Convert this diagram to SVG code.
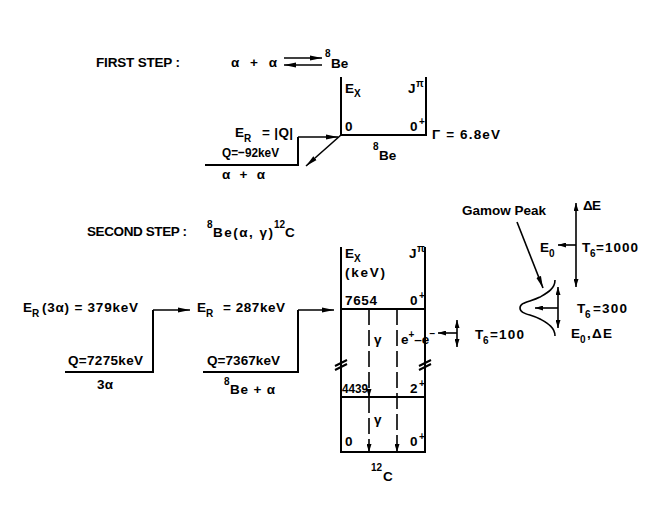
<svg xmlns="http://www.w3.org/2000/svg" width="665" height="508" viewBox="0 0 665 508">
<style>
text{font-family:"Liberation Sans",Arial,sans-serif;font-size:13.5px;font-weight:bold;fill:#000}
.s{font-size:10px}
.ln{stroke:#000;stroke-width:2;fill:none}
.c{stroke:#000;stroke-width:1.6;fill:none}
.d{stroke:#000;stroke-width:1.6;fill:none;stroke-dasharray:16 5}
</style>
<defs>
<marker id="ah" viewBox="0 0 12 6" refX="12" refY="3" markerWidth="12" markerHeight="6" markerUnits="userSpaceOnUse" orient="auto-start-reverse">
<path d="M0,0.5 L12,3 L0,5.5 z" fill="#000"/>
</marker>
<marker id="as" viewBox="0 0 8 5" refX="8" refY="2.5" markerWidth="8" markerHeight="5" markerUnits="userSpaceOnUse" orient="auto-start-reverse">
<path d="M0,0 L8,2.5 L0,5 z" fill="#000"/>
</marker>
</defs>
<rect width="665" height="508" fill="#fff"/>

<g id="first-step-title">
<text x="96" y="67" textLength="84" lengthAdjust="spacing">FIRST STEP :</text>
<text x="231" y="67" textLength="46" lengthAdjust="spacing">α + α</text>
<text x="325" y="57" class="s">8</text>
<text x="331" y="68">Be</text>
</g>

<g id="alpha-alpha-entrance">
<path class="ln" d="M205,165 H298 V137"/>
<text x="235" y="137">E</text>
<text x="244" y="142" class="s">R</text>
<text x="262" y="137" textLength="31" lengthAdjust="spacing">= |Q|</text>
<text x="222" y="157" textLength="57" lengthAdjust="spacingAndGlyphs">Q=−92keV</text>
<text x="222" y="179" textLength="43" lengthAdjust="spacing">α + α</text>
</g>

<g id="be8-levels">
<path class="ln" d="M341,77 V135 H426 V77"/>
<text x="345" y="93">E</text>
<text x="354" y="97" class="s">X</text>
<text x="408" y="93">J</text>
<text x="416" y="87" class="s">π</text>
<text x="345" y="131">0</text>
<text x="410" y="131">0</text>
<text x="419" y="125" class="s">+</text>
<text x="432" y="139" textLength="68" lengthAdjust="spacing">Γ = 6.8eV</text>
<text x="373" y="150" class="s">8</text>
<text x="379" y="160">Be</text>
</g>

<g id="second-step-title">
<text x="87" y="236" textLength="100" lengthAdjust="spacing">SECOND STEP :</text>
<text x="207" y="228" class="s">8</text>
<text x="213" y="237" textLength="60" lengthAdjust="spacing">Be(α, γ)</text>
<text x="274" y="228" class="s">12</text>
<text x="285" y="237">C</text>
</g>

<g id="three-alpha-entrance">
<path class="ln" d="M65,372 H153 V310"/>
<text x="23" y="312">E</text>
<text x="32" y="317" class="s">R</text>
<text x="42" y="312" textLength="96" lengthAdjust="spacing">(3α) = 379keV</text>
<text x="68" y="365" textLength="75" lengthAdjust="spacing">Q=7275keV</text>
<text x="97" y="389" textLength="16" lengthAdjust="spacing">3α</text>
</g>

<g id="be8-alpha-entrance">
<path class="ln" d="M203,372 H298 V310"/>
<text x="197" y="312">E</text>
<text x="206" y="317" class="s">R</text>
<text x="223" y="312" textLength="62" lengthAdjust="spacing">= 287keV</text>
<text x="207" y="365" textLength="73" lengthAdjust="spacing">Q=7367keV</text>
<text x="224" y="385" class="s">8</text>
<text x="230" y="394" textLength="45" lengthAdjust="spacing">Be + α</text>
</g>

<g id="c12-levels">
<path class="ln" d="M341,247 V452 H425 V247"/>
<path class="ln" d="M341,309 H425 M341,397 H425"/>
<path class="ln" d="M335,366 L347,360 M335,370 L347,364 M419,366 L431,360 M419,370 L431,364"/>
<text x="345" y="258">E</text>
<text x="354" y="262" class="s">X</text>
<text x="345" y="277" textLength="40" lengthAdjust="spacing">(keV)</text>
<text x="409" y="258">J</text>
<text x="417" y="252" class="s">π</text>
<text x="345" y="305" textLength="32" lengthAdjust="spacing">7654</text>
<text x="410" y="305">0</text>
<text x="419" y="299" class="s">+</text>
<text x="342" y="393" style="font-size:12px" textLength="26" lengthAdjust="spacingAndGlyphs">4439</text>
<text x="410" y="393">2</text>
<text x="419" y="387" class="s">+</text>
<text x="345" y="446">0</text>
<text x="410" y="446">0</text>
<text x="419" y="440" class="s">+</text>
<text x="374" y="344">γ</text>
<text x="374" y="424">γ</text>
<text x="401" y="344">e<tspan dy="-6" class="s">+</tspan><tspan dy="6">–e</tspan><tspan dy="-7" class="s">−</tspan></text>
<text x="371" y="471" class="s">12</text>
<text x="383" y="481">C</text>
</g>

<g id="gamow-peak">
<text x="462" y="215" textLength="84" lengthAdjust="spacing">Gamow Peak</text>
<path class="c" d="M555,280 C555,289 547,293 540,297 C530,302 520,302 520,308 C520,314 530,314 540,319 C547,323 555,327 555,336"/>
<text x="540" y="252">E</text>
<text x="549" y="257" class="s">0</text>
<text x="583" y="210" textLength="18" lengthAdjust="spacing">ΔE</text>
<text x="582" y="252">T</text>
<text x="590" y="257" class="s">6</text>
<text x="596" y="252" textLength="42" lengthAdjust="spacing">=1000</text>
<text x="577" y="313">T</text>
<text x="585" y="318" class="s">6</text>
<text x="593" y="313" textLength="34" lengthAdjust="spacing">=300</text>
<text x="571" y="338">E</text>
<text x="580" y="343" class="s">0</text>
<text x="587" y="338" textLength="25" lengthAdjust="spacing">,ΔE</text>
<text x="475" y="339">T</text>
<text x="483" y="344" class="s">6</text>
<text x="490" y="339" textLength="34" lengthAdjust="spacing">=100</text>
</g>

<g id="connectors">
<path class="c" d="M284,58 H322" marker-end="url(#ah)"/>
<path class="c" d="M322,65 H284" marker-end="url(#ah)"/>
<path class="c" d="M298,137 H338" marker-end="url(#ah)"/>
<path class="c" d="M341,135 L306,166" marker-end="url(#ah)"/>
<path class="c" d="M153,310 H190" marker-end="url(#ah)"/>
<path class="c" d="M298,310 H334" marker-end="url(#ah)"/>
<path class="d" d="M369,309 V397" marker-end="url(#as)"/>
<path class="d" d="M369,397 V452" marker-end="url(#as)"/>
<path class="d" d="M397,309 V452" marker-end="url(#as)"/>
<path class="c" d="M457,320 V347" marker-start="url(#as)" marker-end="url(#as)"/>
<path class="c" d="M457,333 H438" marker-end="url(#as)"/>
<path class="c" d="M517,222 L543,288" marker-end="url(#ah)"/>
<path class="c" d="M558,287 V328" marker-start="url(#as)" marker-end="url(#as)"/>
<path class="c" d="M558,308 H535" marker-end="url(#as)"/>
<path class="c" d="M576,203 V287" marker-start="url(#as)" marker-end="url(#as)"/>
<path class="c" d="M576,245 H558" marker-end="url(#as)"/>
</g>
</svg>
